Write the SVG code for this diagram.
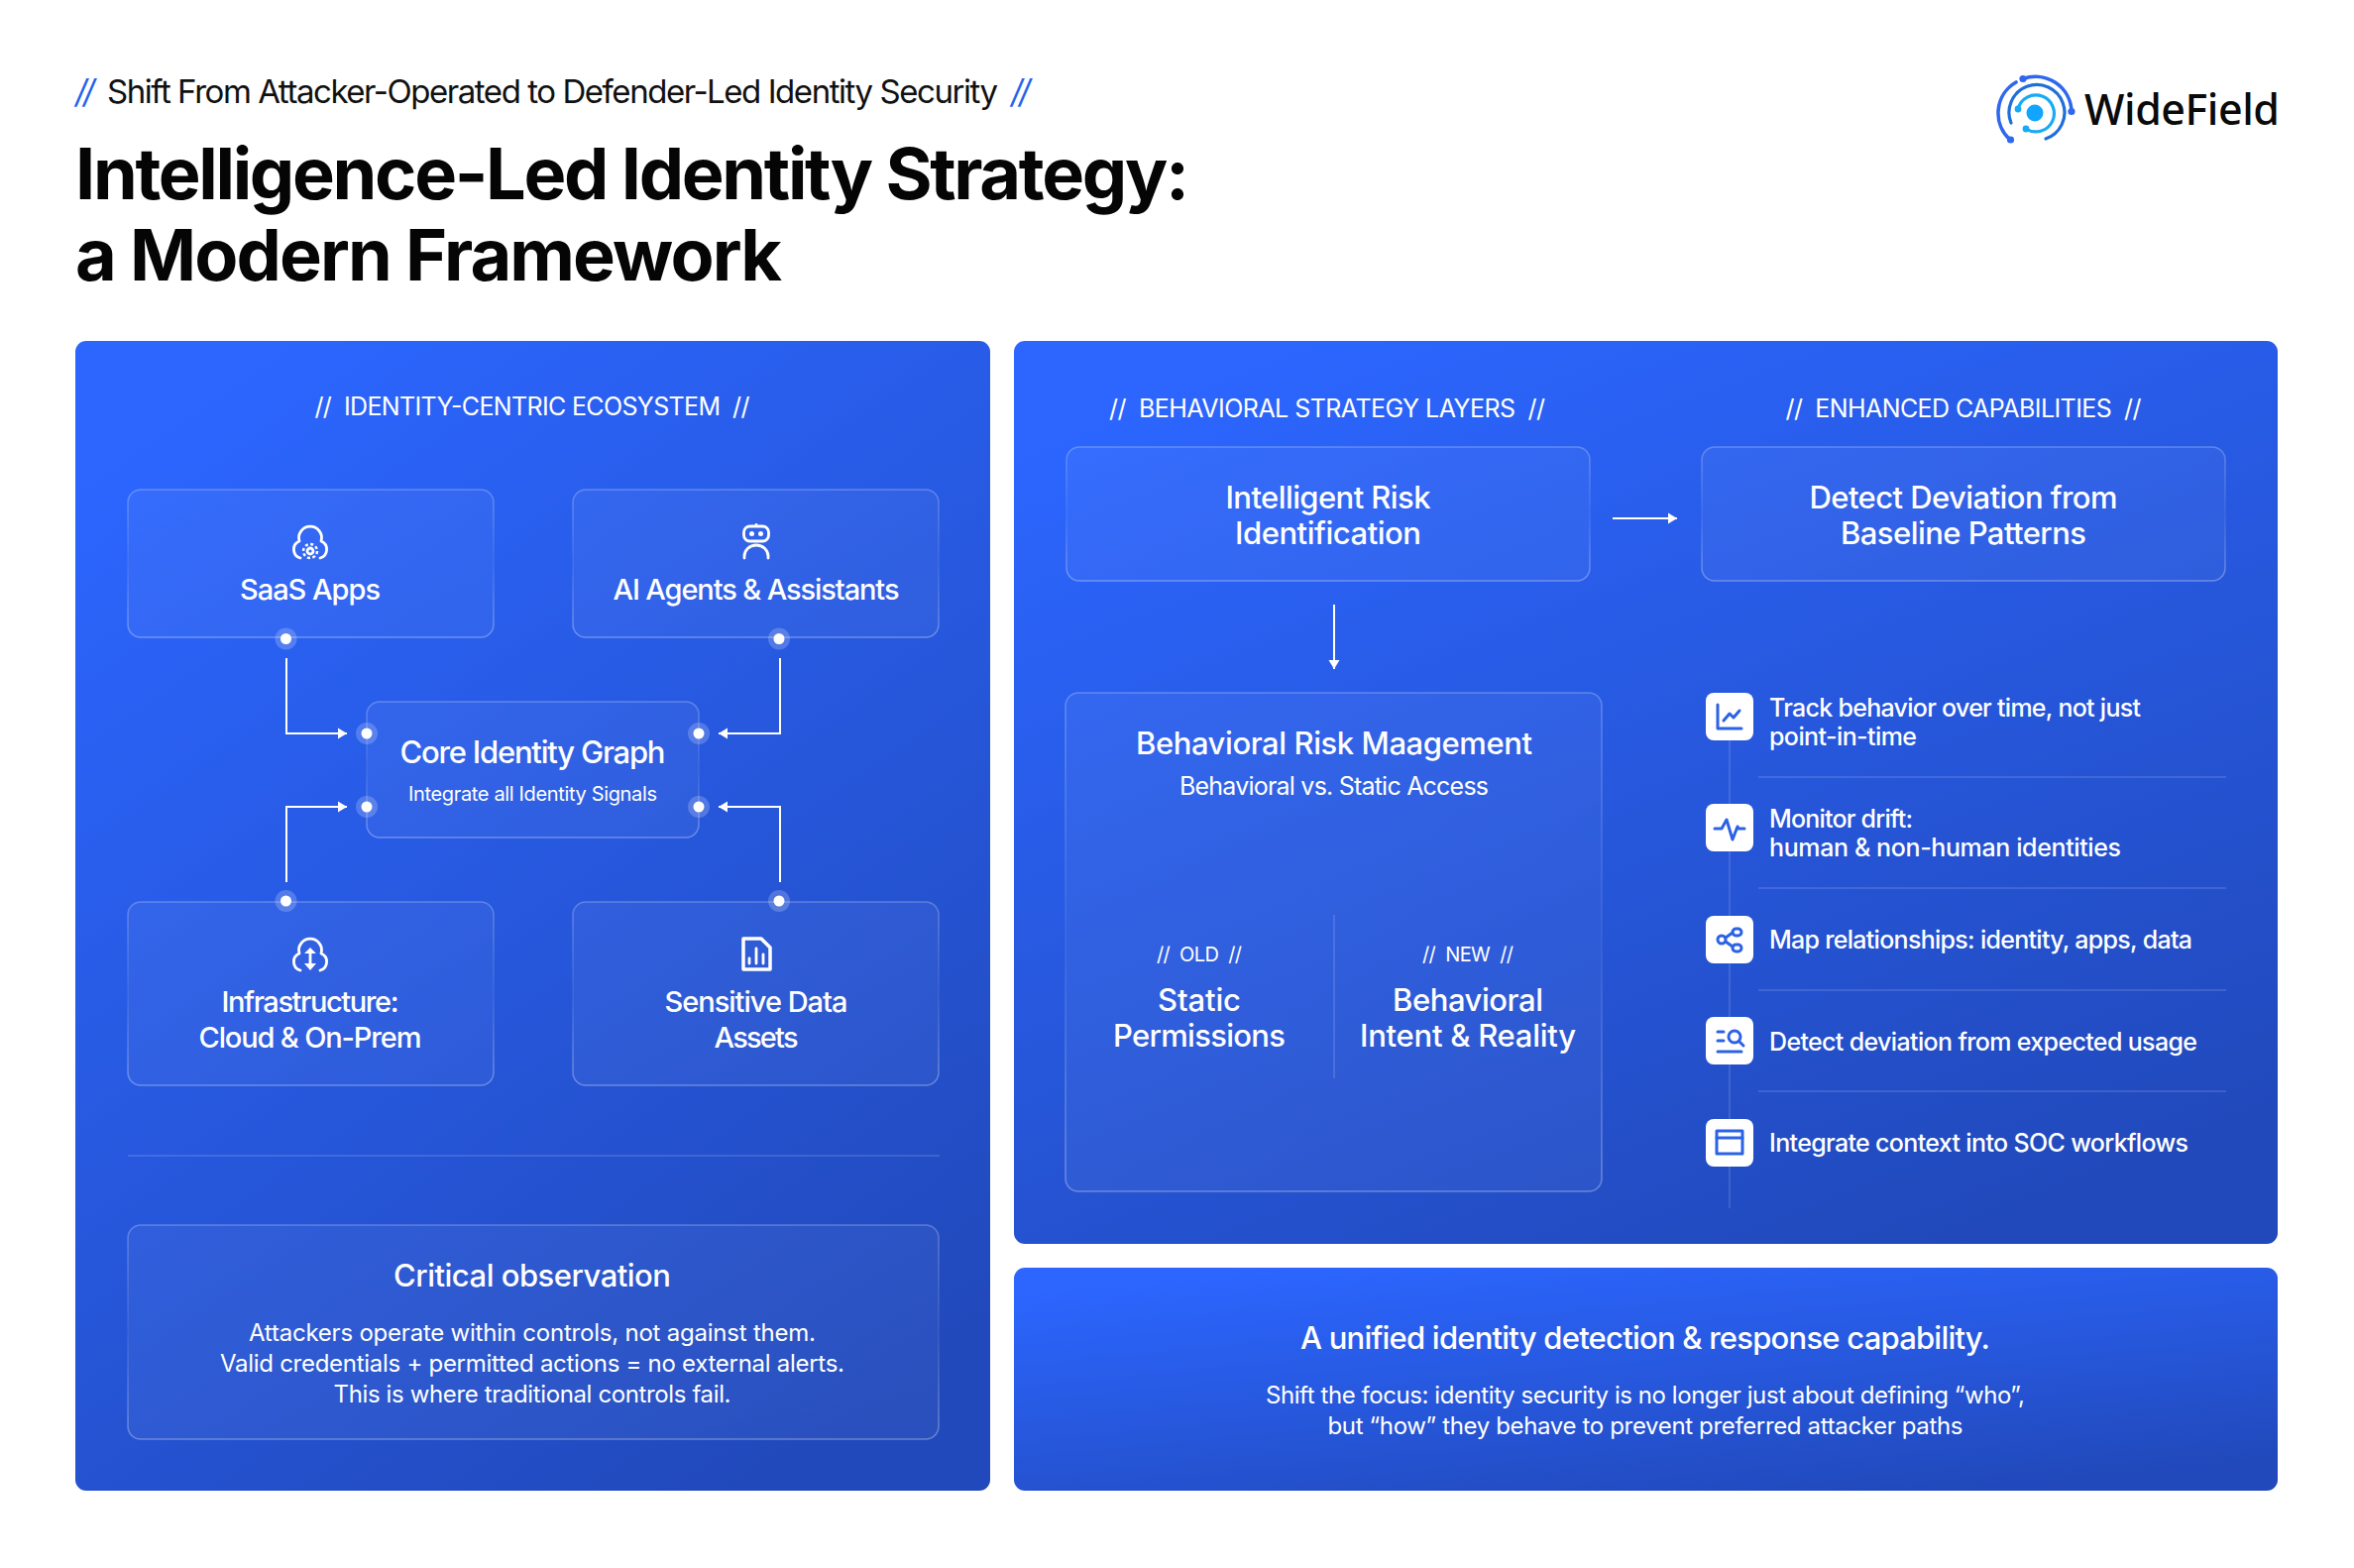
<svg xmlns="http://www.w3.org/2000/svg" width="2375" height="1582" viewBox="0 0 2375 1582">
<style>
text{font-family:"Inter","Liberation Sans",sans-serif;fill:#fff;text-anchor:middle;font-weight:500;white-space:pre}
.title{fill:#050505;font-size:72px;font-weight:700;text-anchor:start}
.sub{fill:#111;font-size:33px;text-anchor:start;font-weight:400}
.sl{fill:#2563eb;font-size:33px;text-anchor:start;font-style:italic;font-weight:400}
.hd{font-size:25px;font-weight:400}
.c28{font-size:29px}
.c32{font-size:31px}
.b24{font-size:24px;font-weight:400}
.li{font-size:25px;text-anchor:start}
.tag{font-size:20px;font-weight:400}
.card{fill:url(#cardFill);stroke:url(#cardStroke);stroke-width:1.6}
.ico{fill:none;stroke:#fff;stroke-width:2.8;stroke-linecap:round;stroke-linejoin:round}
.lico{fill:none;stroke:#2c62e6;stroke-width:3;stroke-linecap:round;stroke-linejoin:round}
.conn{fill:none;stroke:#fff;stroke-width:2}
.sep{stroke:#fff;stroke-opacity:.17;stroke-width:1.5}
.halo{fill:#fff;fill-opacity:.2}
.dot{fill:#fff}
.chip{fill:#fff}
</style>
<defs>
<linearGradient id="panel" x1="0.2" y1="0" x2="0.75" y2="1"><stop offset="0" stop-color="#2c66ff"/><stop offset="1" stop-color="#2149bb"/></linearGradient>
<linearGradient id="cardFill" x1="0" y1="0" x2="1" y2="1"><stop offset="0" stop-color="#fff" stop-opacity=".05"/><stop offset=".5" stop-color="#fff" stop-opacity=".045"/><stop offset="1" stop-color="#fff" stop-opacity=".04"/></linearGradient>
<linearGradient id="cardStroke" x1="0" y1="0" x2="0" y2="1"><stop offset="0" stop-color="#fff" stop-opacity=".24"/><stop offset=".5" stop-color="#fff" stop-opacity=".07"/><stop offset="1" stop-color="#fff" stop-opacity=".3"/></linearGradient>
<marker id="ah" markerUnits="userSpaceOnUse" markerWidth="11" markerHeight="12" refX="9" refY="6" orient="auto"><path d="M0 0.5L9 6L0 11.5z" fill="#fff"/></marker>
</defs>
<rect width="2375" height="1582" fill="#fff"/>
<g id="header">
<text class="sl" x="76" y="104" textLength="20">//</text>
<text class="sub" x="108" y="104" textLength="899">Shift From Attacker-Operated to Defender-Led Identity Security</text>
<text class="sl" x="1020" y="104" textLength="20">//</text>
<text class="title" x="76" y="201" textLength="1124">Intelligence-Led Identity Strategy:</text>
<text class="title" x="76" y="283" textLength="713">a Modern Framework</text>
</g>
<g id="logo">
<path d="M2034 83A36 36 0 0 0 2028 141" fill="none" stroke="#2f68ee" stroke-width="3.6" stroke-linecap="round"/>
<circle cx="2028.500" cy="141" r="3.600" fill="#2f68ee"/>
<path d="M2041 79.500A36.500 36.500 0 0 1 2090 112" fill="none" stroke="#2f68ee" stroke-width="3.600" stroke-linecap="round"/>
<circle cx="2041" cy="79.500" r="3.600" fill="#2f68ee"/><circle cx="2090" cy="112.500" r="3.600" fill="#2f68ee"/>
<path d="M2029 124A28 28 0 1 1 2064 140" fill="none" stroke="#1f6fd8" stroke-width="3.200" stroke-linecap="round"/>
<path d="M2036 110A18.500 18.500 0 1 1 2044 130" fill="none" stroke="#17aaf5" stroke-width="3.200" stroke-linecap="round"/>
<circle cx="2036" cy="110" r="3.400" fill="#17aaf5"/><circle cx="2044" cy="130" r="3.400" fill="#17aaf5"/>
<circle cx="2053" cy="114" r="8.500" fill="#12a5ff"/>
<text x="2103" y="126" textLength="197" style="font-family:'Noto Sans','Inter',sans-serif;font-size:43px;text-anchor:start;fill:#0a0a0a;font-weight:500">WideField</text>
</g>
<g id="panels">
<rect id="panel-left" x="76" y="344" width="923" height="1160" rx="11" fill="url(#panel)"/>
<rect id="panel-right" x="1023" y="344" width="1275" height="911" rx="11" fill="url(#panel)"/>
<rect id="panel-bottom" x="1023" y="1279" width="1275" height="225" rx="11" fill="url(#panel)"/>
</g>
<line class="sep" x1="129" y1="1166" x2="948" y2="1166"/>
<text class="hd" x="537" y="419" textLength="439">//  IDENTITY-CENTRIC ECOSYSTEM  //</text>
<text class="hd" x="1339" y="421" textLength="440">//  BEHAVIORAL STRATEGY LAYERS  //</text>
<text class="hd" x="1981" y="421" textLength="359">//  ENHANCED CAPABILITIES  //</text>
<g id="connectors">
<path class="conn" d="M289 664V740H350" marker-end="url(#ah)"/>
<path class="conn" d="M787 664V740H725" marker-end="url(#ah)"/>
<path class="conn" d="M289 890V814H350" marker-end="url(#ah)"/>
<path class="conn" d="M787 890V814H725" marker-end="url(#ah)"/>
<path class="conn" d="M1627 523H1692" marker-end="url(#ah)"/>
<path class="conn" d="M1346 610V675" marker-end="url(#ah)" stroke-width="1.600"/>
</g>
<g id="node-saas">
<rect class="card" x="129" y="494" width="369" height="149" rx="13"/>
<path class="ico" d="M303 563a9 9 0 0 1-1-17a11.500 11.500 0 1 1 22 0a9 9 0 0 1-1 17"/>
<circle class="ico" cx="313" cy="556" r="3"/><circle cx="313" cy="556" r="7" fill="none" stroke="#fff" stroke-width="2.500" stroke-dasharray="3 2.500"/>
<text class="c28" x="313" y="605" textLength="142">SaaS Apps</text>
</g>
<g id="node-ai">
<rect class="card" x="578" y="494" width="369" height="149" rx="13"/>
<rect class="ico" x="750.500" y="531" width="25" height="15" rx="6"/><path class="ico" d="M763 530v-0.500"/>
<circle cx="758.500" cy="538.500" r="2.500" fill="#fff"/><circle cx="767.500" cy="538.500" r="2.500" fill="#fff"/>
<path class="ico" d="M751 563v-2a12 11 0 0 1 24 0v2"/>
<text class="c28" x="763" y="605" textLength="289">AI Agents &amp; Assistants</text>
</g>
<g id="node-core">
<rect class="card" x="370" y="708" width="335" height="137" rx="13"/>
<text class="c32" x="537.500" y="770" textLength="268">Core Identity Graph</text>
<text x="537.500" y="808" textLength="251" style="font-size:20px;font-weight:400">Integrate all Identity Signals</text>
</g>
<g id="node-infra">
<rect class="card" x="129" y="910" width="369" height="185" rx="13"/>
<path class="ico" d="M303 979a9 9 0 0 1-1-17a11.500 11.500 0 1 1 22 0a9 9 0 0 1-1 17"/>
<path class="ico" d="M313 960v15"/><path d="M307 962l6-6l6 6zM307 972h12l-6 7z" fill="#fff"/>
<text class="c28" x="313" y="1021" textLength="179">Infrastructure:</text>
<text class="c28" x="313" y="1057" textLength="225">Cloud &amp; On-Prem</text>
</g>
<g id="node-data">
<rect class="card" x="578" y="910" width="369" height="185" rx="13"/>
<path class="ico" style="stroke-width:3.500" d="M750 947h18l9 9v22h-27z"/>
<path class="ico" d="M756 972v-5M763 972v-15M770 972v-9"/>
<text class="c28" x="763" y="1021" textLength="185">Sensitive Data</text>
<text class="c28" x="763" y="1057" textLength="85">Assets</text>
</g>
<g id="ports">
<circle class="halo" cx="288.500" cy="644.500" r="11"/><circle class="dot" cx="288.500" cy="644.500" r="5.500"/>
<circle class="halo" cx="786" cy="644.500" r="11"/><circle class="dot" cx="786" cy="644.500" r="5.500"/>
<circle class="halo" cx="370" cy="740" r="11"/><circle class="dot" cx="370" cy="740" r="5.500"/>
<circle class="halo" cx="705" cy="740" r="11"/><circle class="dot" cx="705" cy="740" r="5.500"/>
<circle class="halo" cx="370" cy="814" r="11"/><circle class="dot" cx="370" cy="814" r="5.500"/>
<circle class="halo" cx="705" cy="814" r="11"/><circle class="dot" cx="705" cy="814" r="5.500"/>
<circle class="halo" cx="288.500" cy="909" r="11"/><circle class="dot" cx="288.500" cy="909" r="5.500"/>
<circle class="halo" cx="786" cy="909" r="11"/><circle class="dot" cx="786" cy="909" r="5.500"/>
</g>
<g id="node-critical">
<rect class="card" x="129" y="1236" width="818" height="216" rx="13"/>
<text class="c32" x="537" y="1298" textLength="280">Critical observation</text>
<text class="b24" x="537" y="1353" textLength="572">Attackers operate within controls, not against them.</text>
<text class="b24" x="537" y="1384" textLength="630">Valid credentials + permitted actions = no external alerts.</text>
<text class="b24" x="537" y="1415" textLength="401">This is where traditional controls fail.</text>
</g>
<g id="node-risk">
<rect class="card" x="1076" y="451" width="528" height="135" rx="13"/>
<text class="c32" x="1340" y="513" textLength="207">Intelligent Risk</text>
<text class="c32" x="1340" y="549" textLength="188">Identification</text>
</g>
<g id="node-deviation">
<rect class="card" x="1717" y="451" width="528" height="135" rx="13"/>
<text class="c32" x="1981" y="513" textLength="311">Detect Deviation from</text>
<text class="c32" x="1981" y="549" textLength="248">Baseline Patterns</text>
</g>
<g id="node-behavioral">
<rect class="card" x="1075" y="699" width="541" height="503" rx="13"/>
<text class="c32" x="1346" y="761" textLength="400">Behavioral Risk Maagement</text>
<text x="1346" y="802" textLength="312" style="font-size:25px;font-weight:400">Behavioral vs. Static Access</text>
<line class="sep" x1="1346" y1="923" x2="1346" y2="1088"/>
<text class="tag" x="1210" y="970" textLength="86">//  OLD  //</text>
<text class="c32" x="1210" y="1020" textLength="84">Static</text>
<text class="c32" x="1210" y="1056" textLength="174">Permissions</text>
<text class="tag" x="1481" y="970" textLength="92">//  NEW  //</text>
<text class="c32" x="1481" y="1020" textLength="152">Behavioral</text>
<text class="c32" x="1481" y="1056" textLength="218">Intent &amp; Reality</text>
</g>
<g id="capabilities">
<line class="sep" x1="1745" y1="747" x2="1745" y2="1219"/>
<line class="sep" x1="1774" y1="784" x2="2246" y2="784"/>
<line class="sep" x1="1774" y1="896" x2="2246" y2="896"/>
<line class="sep" x1="1774" y1="999" x2="2246" y2="999"/>
<line class="sep" x1="1774" y1="1101" x2="2246" y2="1101"/>
</g>
<g id="cap-track">
<rect class="chip" x="1721" y="699" width="48" height="48" rx="8"/>
<path class="lico" d="M1733 711v24h24M1739 727l6-7l4 4l6-7"/>
<text class="li" x="1785" y="723" textLength="375">Track behavior over time, not just</text>
<text class="li" x="1785" y="752" textLength="149">point-in-time</text>
</g>
<g id="cap-monitor">
<rect class="chip" x="1721" y="811" width="48" height="48" rx="8"/>
<path class="lico" d="M1730 836h7l5-9l6 20l5-13l1 2h6"/>
<text class="li" x="1785" y="835" textLength="145">Monitor drift:</text>
<text class="li" x="1785" y="864" textLength="355">human &amp; non-human identities</text>
</g>
<g id="cap-map">
<rect class="chip" x="1721" y="924" width="48" height="48" rx="8"/>
<rect class="lico" x="1748" y="937" width="9" height="7" rx="3.500"/><rect class="lico" x="1748" y="953" width="9" height="7" rx="3.500"/><circle class="lico" cx="1737" cy="948" r="4"/>
<path class="lico" d="M1741 946l7-5M1741 950l7 5"/>
<text class="li" x="1785" y="957" textLength="427">Map relationships: identity, apps, data</text>
</g>
<g id="cap-detect">
<rect class="chip" x="1721" y="1026" width="48" height="48" rx="8"/>
<path class="lico" d="M1733 1041h6M1733 1050h6M1733 1061h24"/><circle class="lico" cx="1750" cy="1046" r="6"/><path class="lico" d="M1755 1051l4 4"/>
<text class="li" x="1785" y="1060" textLength="432">Detect deviation from expected usage</text>
</g>
<g id="cap-integrate">
<rect class="chip" x="1721" y="1129" width="48" height="48" rx="8"/>
<rect class="lico" x="1732" y="1141" width="26" height="23"/><path class="lico" d="M1732 1148h26"/>
<text class="li" x="1785" y="1162" textLength="423">Integrate context into SOC workflows</text>
</g>
<g id="node-unified">
<text class="c32" x="1660" y="1361" textLength="696">A unified identity detection &amp; response capability.</text>
<text class="b24" x="1660" y="1416" textLength="766">Shift the focus: identity security is no longer just about defining “who”,</text>
<text class="b24" x="1660" y="1447" textLength="641">but “how” they behave to prevent preferred attacker paths</text>
</g>
</svg>
